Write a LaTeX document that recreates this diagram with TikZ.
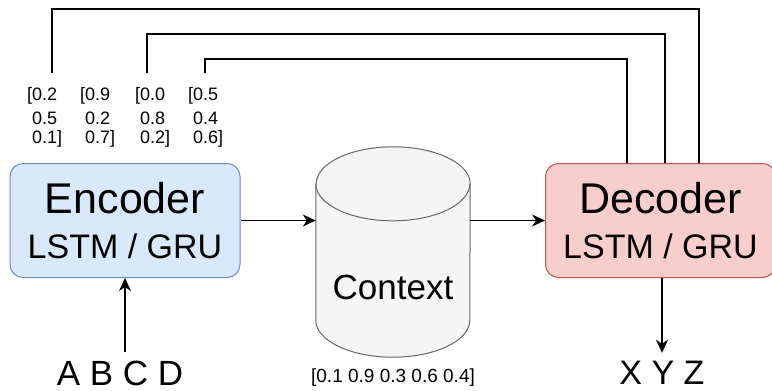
\documentclass[tikz,border=0pt]{standalone}
\usepackage{fontspec}
\setmainfont{Liberation Sans}
\usetikzlibrary{arrows.meta,calc,positioning}
\definecolor{encfill}{HTML}{DAE8FC}
\definecolor{encline}{HTML}{6C8EBF}
\definecolor{decfill}{HTML}{F8CECC}
\definecolor{decline}{HTML}{B85450}
\definecolor{ctxfill}{HTML}{F5F5F5}
\definecolor{ctxline}{HTML}{666666}
\tikzset{
  box/.style   = {draw, line width=1pt, rounded corners=13pt, minimum width=230pt,
                  minimum height=114pt, align=center, inner sep=0pt,
                  font=\fontsize{34}{45}\selectfont},
  encbox/.style = {box, fill=encfill, draw=encline},
  decbox/.style = {box, fill=decfill, draw=decline},
  cyl/.style   = {draw=ctxline, fill=ctxfill, line width=1pt},
  wire/.style  = {line width=1.4pt},
  flow/.style  = {-{Stealth[length=13pt,width=12pt,inset=4pt]}, line width=1.4pt},
  num/.style   = {font=\fontsize{18}{19}\selectfont, align=left, inner sep=0pt,
                  anchor=north west},
}

\begin{document}
\begin{tikzpicture}[x=1pt,y=-1pt]
  \useasboundingbox (0,0) rectangle (772,391);
  \node[encbox] (enc) at (125,220.5) {{\fontsize{43}{45}\selectfont Encoder}\\LSTM / GRU};
  \node[decbox] (dec) at (660.5,220.5) {{\fontsize{43}{45}\selectfont Decoder}\\LSTM / GRU};
  % context store: a cylinder round an empty node
  \node[minimum width=154pt, minimum height=210pt, inner sep=0pt] (ctx) at (393,252) {};
  \draw[cyl] ([yshift=-37pt]ctx.north west) -- ([yshift=37pt]ctx.south west)
    arc[start angle=180, end angle=360, x radius=77pt, y radius=37pt]
    -- ([yshift=-37pt]ctx.north east)
    arc[start angle=0, end angle=180, x radius=77pt, y radius=37pt] -- cycle;
  \draw[cyl, fill=none] ([yshift=-37pt]ctx.north west)
    arc[start angle=180, end angle=360, x radius=77pt, y radius=37pt];
  \node[font=\fontsize{35}{40}\selectfont] (ctxt) at (393,287) {Context};
  \node[font=\fontsize{19}{20}\selectfont] (ctxv) at (393,378) {[0.1 0.9 0.3 0.6 0.4]};
  \node[font=\fontsize{35}{36}\selectfont] (inp) at (120,373) {A B C D};
  \node[font=\fontsize{34}{36}\selectfont] (out) at (662,373) {X Y Z};
  % hidden states of the encoder
  \foreach \i/\x/\a/\b/\c in {1/27/0.2/0.5/0.1, 2/80/0.9/0.2/0.7, 3/135/0.0/0.8/0.2, 4/188/0.5/0.4/0.6}{
    \node[num] (v\i) at (\x,87) {[\a\\[5pt]\phantom{[}\b\\\phantom{[}\c]};}
  \coordinate (h1) at (52,73);
  \coordinate (h3) at (147,73);
  \coordinate (h4) at (205,73);
  \foreach \t/\y/\x in {1/9/699, 3/34/665, 4/59/627}{
    \draw[wire] (h\t) -- (h\t |- 0,\y) -| (dec.north -| \x,0);}
  \draw[flow] (enc.east) -- (enc.east -| ctx.west);
  \draw[flow] (dec.west -| ctx.east) -- (dec.west);
  \draw[flow] ($(inp.north -| enc.south)+(0,-5)$) -- (enc.south);
  \draw[flow] (dec.south -| out.north) -- ($(out.north)+(0,-5)$);
\end{tikzpicture}
\end{document}
